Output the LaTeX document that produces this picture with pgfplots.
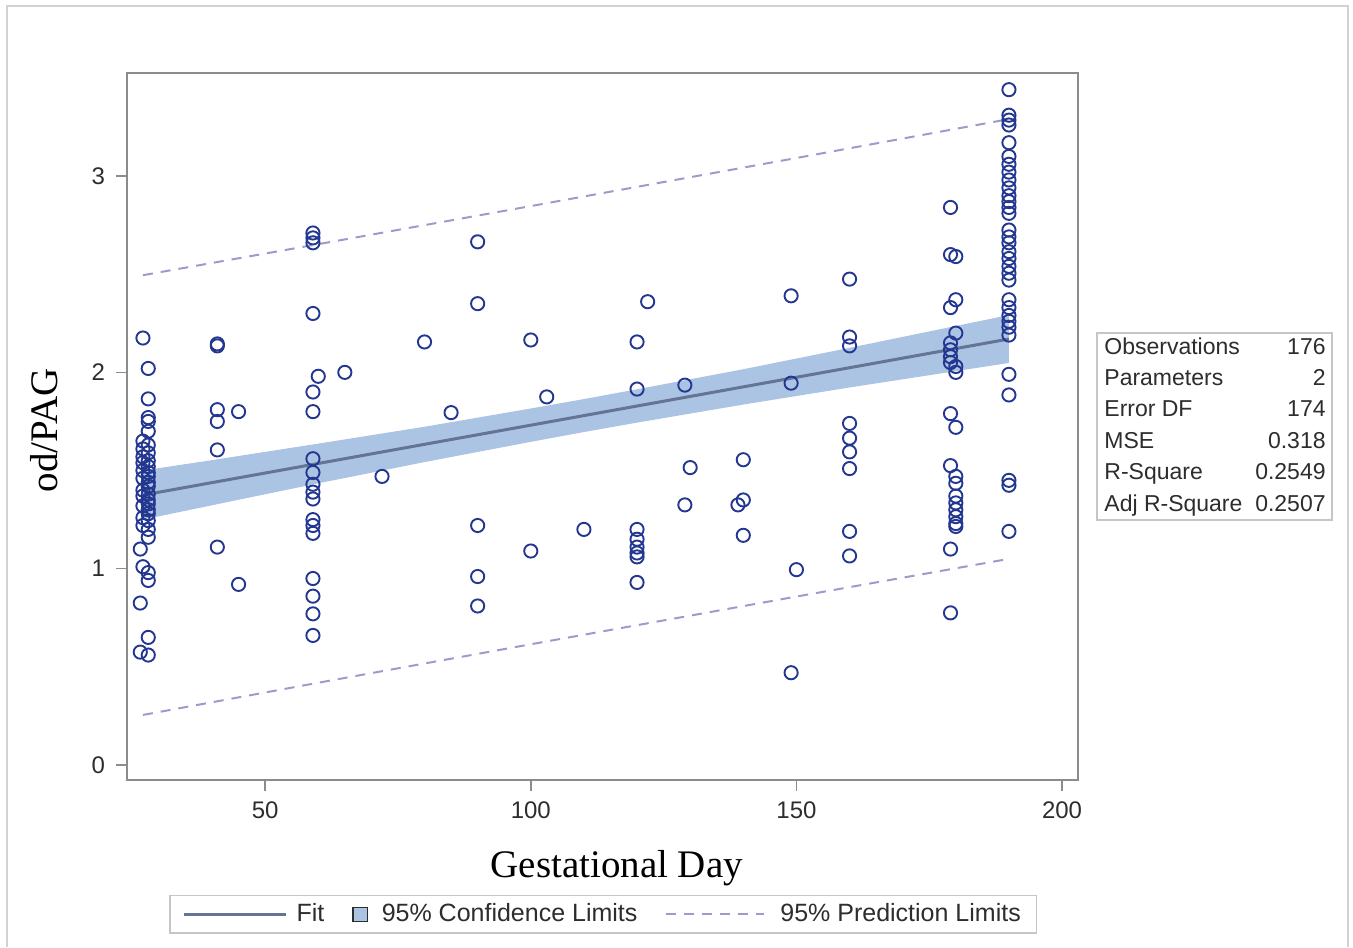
\documentclass[border=0pt]{standalone}
\usepackage{fontspec}
\setmainfont{Liberation Serif}
\setsansfont{Liberation Sans}
\usepackage{pgfplots}
\pgfplotsset{compat=1.18}
\usepgfplotslibrary{fillbetween}

\definecolor{ptblue}{RGB}{35,55,145}
\definecolor{bandblue}{RGB}{172,196,228}
\definecolor{fitcol}{RGB}{100,116,148}
\definecolor{predcol}{RGB}{155,155,205}
\definecolor{framegray}{RGB}{140,140,140}
\definecolor{txtgray}{RGB}{45,45,45}

\pgfplotstableread{
x y
27 2.175
28 2.02
28 1.865
28 1.77
28 1.75
28 1.70
27 1.65
28 1.63
27 1.61
28 1.59
27 1.57
28 1.55
27 1.54
28 1.52
27 1.50
28 1.49
28 1.47
27 1.46
28 1.44
28 1.42
27 1.40
28 1.38
27 1.37
28 1.35
28 1.33
27 1.32
28 1.30
28 1.28
27 1.26
28 1.245
27 1.22
28 1.20
28 1.16
26.5 1.10
27 1.01
28 0.98
28 0.94
26.5 0.825
28 0.65
26.5 0.575
28 0.56
41 2.145
41 2.135
41 1.81
41 1.75
41 1.605
41 1.11
45 1.80
45 0.92
59 2.71
59 2.685
59 2.66
59 2.30
60 1.98
59 1.90
59 1.80
59 1.56
59 1.49
59 1.43
59 1.39
59 1.355
59 1.25
59 1.22
59 1.18
59 0.95
59 0.86
59 0.77
59 0.66
65 2.00
72 1.47
80 2.155
85 1.795
90 2.665
90 2.35
90 1.22
90 0.96
90 0.81
100 2.165
100 1.09
103 1.875
110 1.20
120 2.155
120 1.915
120 1.20
120 1.15
120 1.11
120 1.08
120 1.06
120 0.93
122 2.36
129 1.935
129 1.325
130 1.515
139 1.325
140 1.35
140 1.555
140 1.17
149 2.39
149 1.945
150 0.995
149 0.47
160 2.475
160 2.18
160 2.135
160 1.74
160 1.665
160 1.595
160 1.51
160 1.19
160 1.065
179 2.84
179 2.60
179 2.33
179 2.15
179 2.115
179 2.08
179 2.05
179 1.79
179 1.525
179 1.10
179 0.775
180 2.59
180 2.37
180 2.20
180 2.03
180 2.00
180 1.72
180 1.47
180 1.435
180 1.37
180 1.335
180 1.30
180 1.265
180 1.23
180 1.215
190 3.44
190 3.31
190 3.285
190 3.26
190 3.17
190 3.10
190 3.06
190 3.02
190 2.98
190 2.94
190 2.90
190 2.87
190 2.84
190 2.81
190 2.725
190 2.69
190 2.66
190 2.615
190 2.58
190 2.54
190 2.505
190 2.47
190 2.37
190 2.33
190 2.29
190 2.26
190 2.23
190 2.19
190 1.99
190 1.885
190 1.45
190 1.425
190 1.19
}\obsdata

\begin{document}
\begin{tikzpicture}
% light outer frame of the figure
\draw[gray!35, line width=0.8pt] (-60pt,-83.5pt) -- (-60pt,387pt) -- (610.5pt,387pt) -- (610.5pt,-83.5pt);

\begin{axis}[
  scale only axis,
  width=475.5pt, height=353.5pt,
  xmin=24, xmax=203, ymin=-0.0764, ymax=3.525,
  xtick={50,100,150,200}, ytick={0,1,2,3},
  xtick pos=bottom, ytick pos=left,
  tick align=outside, major tick length=5.5pt,
  minor tick num=0,
  axis line style={framegray, line width=0.75pt},
  every tick/.style={framegray, line width=0.75pt},
  tick label style={font=\sffamily\fontsize{12}{12}\selectfont, text=txtgray},
  /pgf/number format/assume math mode=true,
  xticklabel style={yshift=-2pt},
  yticklabel style={xshift=-2pt},
  xlabel={Gestational Day},
  ylabel={od/PAG},
  label style={font=\fontsize{19.5}{20}\selectfont, text=black},
  xlabel style={at={(axis description cs:0.515,-0.089)}, anchor=north},
  ylabel style={at={(axis description cs:-0.0875,0.495)}, anchor=center},
  clip=true,
  legend columns=3,
  legend style={at={(0.501,-0.163)}, anchor=north,
    draw=gray!45, line width=0.6pt, fill=white,
    font=\sffamily\fontsize{12.5}{14}\selectfont, text=txtgray,
    inner xsep=6pt, inner ysep=2pt,
    /tikz/every even column/.append style={column sep=12pt}},
  legend cell align=left,
]
% 95% confidence band
\addplot[name path=ciup, draw=none, forget plot] coordinates {
(27,1.500)(40,1.553)(60,1.637)(80,1.723)(100,1.816)(110,1.864)(120,1.914)(140,2.016)(160,2.125)(190,2.292)};
\addplot[name path=cilo, draw=none, forget plot] coordinates {
(27,1.250)(40,1.323)(60,1.435)(80,1.543)(100,1.646)(110,1.696)(120,1.744)(140,1.836)(160,1.923)(190,2.048)};
\addplot[fill=bandblue, draw=none, forget plot] fill between[of=ciup and cilo];
% fit line
\addplot[fitcol, line width=1.5pt, forget plot] coordinates {
(27,1.375)(60,1.536)(100,1.731)(150,1.975)(190,2.170)};
% 95% prediction limits
\addplot[predcol, line width=1pt, dash pattern=on 5pt off 4pt, forget plot] coordinates {
(27,2.495)(60,2.653)(100,2.847)(150,3.092)(190,3.290)};
\addplot[predcol, line width=1pt, dash pattern=on 5pt off 4pt, forget plot] coordinates {
(27,0.255)(60,0.419)(100,0.615)(150,0.858)(190,1.050)};
% observations
\addplot[only marks, mark=o, mark size=3.3pt, mark options={draw=ptblue, line width=0.95pt}, forget plot]
  table[x=x, y=y] {\obsdata};

\addlegendimage{legend image code/.code={\draw[fitcol, line width=1.5pt] (0pt,0pt) -- (51pt,0pt); \path[draw=none, fill=none] (0pt,0pt) -- (54.5pt,0pt);}}
\addlegendentry{Fit}
\addlegendimage{legend image code/.code={\draw[fill=bandblue, draw=txtgray, line width=0.6pt] (0pt,-3.6pt) rectangle (7.4pt,3.6pt); \path[draw=none, fill=none] (0pt,0pt) -- (12.4pt,0pt);}}
\addlegendentry{95\% Confidence Limits}
\addlegendimage{legend image code/.code={\draw[predcol, line width=1pt, dash pattern=on 5pt off 4pt] (0pt,0pt) -- (49pt,0pt); \path[draw=none, fill=none] (0pt,0pt) -- (55pt,0pt);}}
\addlegendentry{95\% Prediction Limits}
\end{axis}

% fit statistics box
\draw[gray!45, line width=0.6pt, fill=white] (485pt,130pt) rectangle (602.5pt,223.5pt);
\begin{scope}[every node/.style={font=\sffamily\fontsize{11.5}{12}\selectfont, text=txtgray, inner sep=0pt}]
\foreach \lab/\val/\yy in {Observations/176/217, Parameters/2/201.5, Error DF/174/186,
    MSE/0.318/170, R-Square/0.2549/154.5, Adj R-Square/0.2507/138.5} {
  \node[anchor=base west] at (488.5pt,\yy pt-4.1pt) {\lab};
  \node[anchor=base east] at (599.5pt,\yy pt-4.1pt) {\val};
}
\end{scope}
\path (-63.5pt,-83.5pt) rectangle (613pt,390pt);
\end{tikzpicture}
\end{document}
